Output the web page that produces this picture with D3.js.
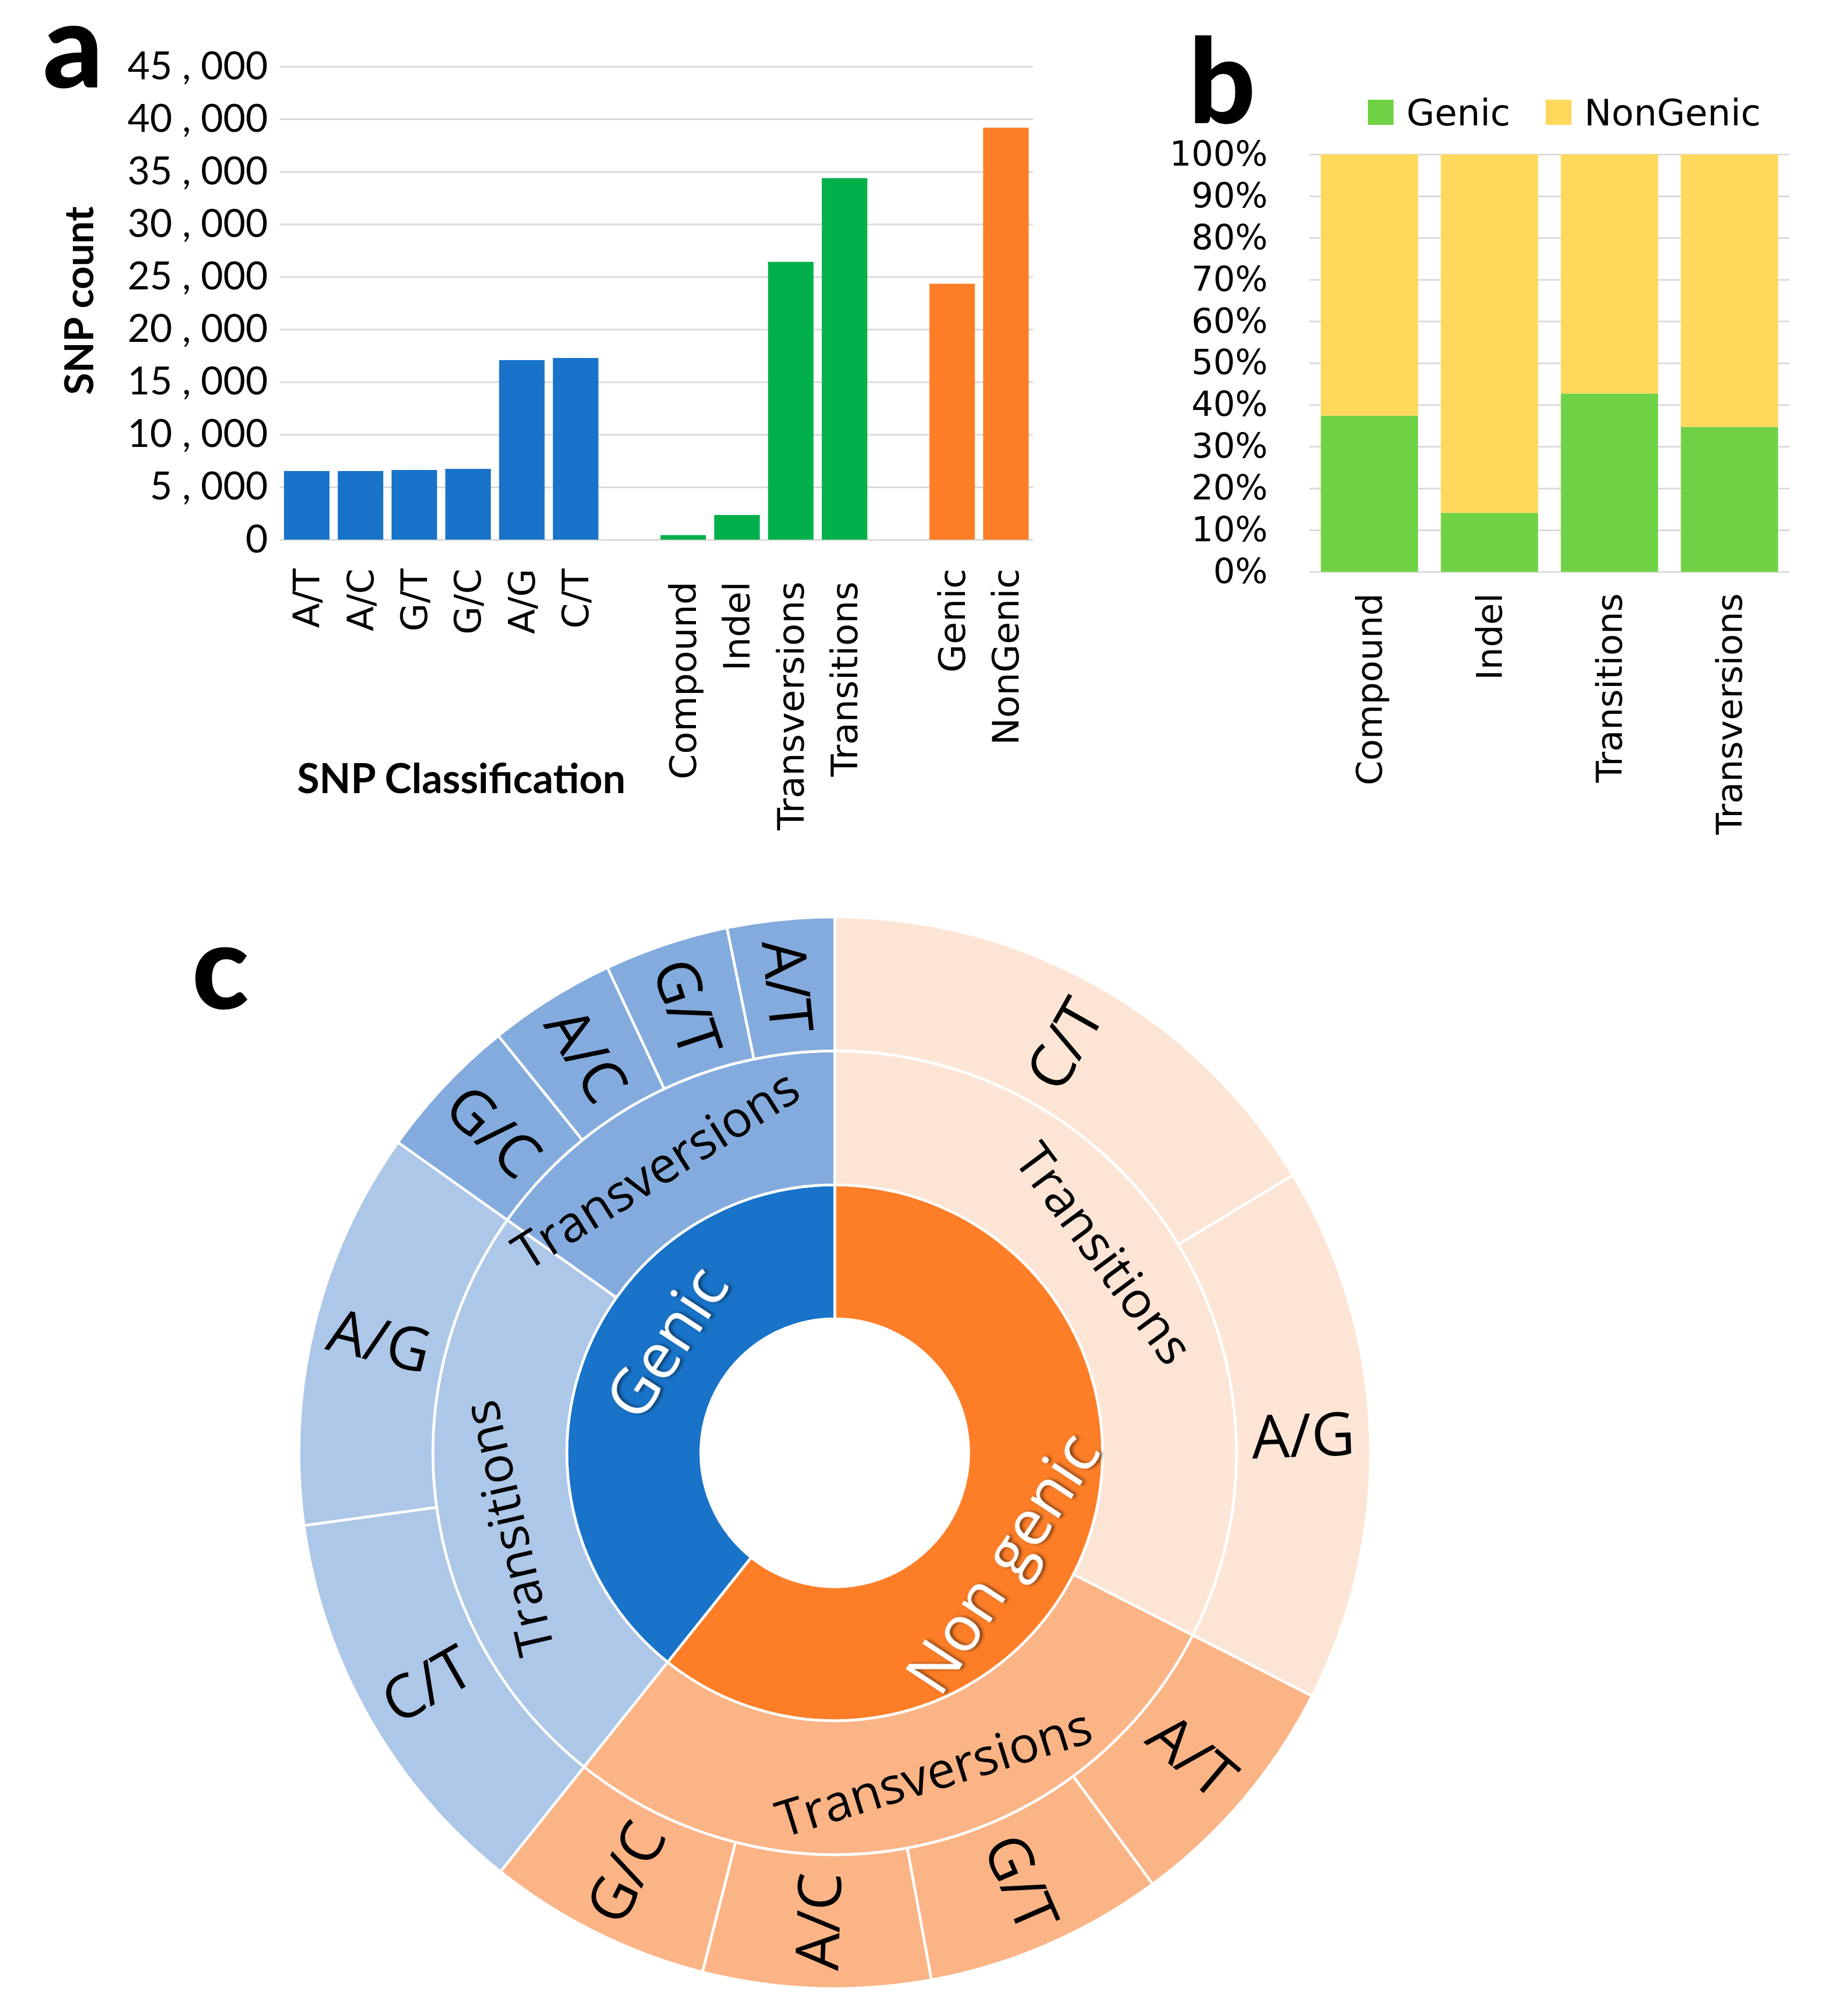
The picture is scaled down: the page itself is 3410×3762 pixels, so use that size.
<!DOCTYPE html>
<html>
<head>
<meta charset="utf-8">
<script src="https://cdn.jsdelivr.net/npm/d3@7"></script>
<style>
  body { margin: 0; background: #fff; }
</style>
</head>
<body>
<script>
// panel a: SNP counts per class
const aCategories = ['A/T', 'A/C', 'G/T', 'G/C', 'A/G', 'C/T', 'Compound', 'Indel', 'Transversions', 'Transitions', 'Genic', 'NonGenic'];
const aValues = [6524, 6524, 6626, 6728, 17074, 17278, 433, 2344, 26417, 34378, 24337, 39174];
const aGroups = ['base', 'base', 'base', 'base', 'base', 'base', 'type', 'type', 'type', 'type', 'region', 'region'];
const aTicks = [0, 5000, 10000, 15000, 20000, 25000, 30000, 35000, 40000, 45000];

// panel b: genic share per SNP type (%)
const bCategories = ['Compound', 'Indel', 'Transitions', 'Transversions'];
const bSeries = ['Genic', 'NonGenic'];
const bGenic = [37.4, 14.1, 42.7, 34.7];
const bNonGenic = [62.6, 85.9, 57.3, 65.3];
const bTicks = [0, 10, 20, 30, 40, 50, 60, 70, 80, 90, 100];

// panel c: sunburst
const cRegions = ['Non genic', 'Genic'];
const cClasses = ['Transitions', 'Transversions'];
const transitionTypes = ['C/T', 'A/G'];
const transversionTypes = ['A/T', 'G/T', 'A/C', 'G/C'];
const nonGenicTransitions = [9925, 9824];
const nonGenicTransversions = [4490, 4389, 4169, 4102];
const genicTransitions = [7360, 7292];
const genicTransversions = [1958, 2279, 2329, 2650];

const W = 3410, H = 3762;
const svg = d3.select('body').append('svg')
  .attr('width', W)
  .attr('height', H);

const panelLetter = (x, y, t) => svg.append('text')
  .attr('x', x)
  .attr('y', y)
  .attr('font-family', 'Lato, sans-serif')
  .attr('font-weight', 900)
  .attr('font-size', 220)
  .text(t);

// ---------- panel a ----------
const aColor = { base: '#1873c9', type: '#00b04a', region: '#fe7e27' };
const aLabelGap = { base: 54, type: 78, region: 54 };
const groupOf = {};
aCategories.forEach((c, i) => { groupOf[c] = aGroups[i]; });

const aSlots = [];
aCategories.forEach((c, i) => {
  if (i > 0 && aGroups[i] !== aGroups[i - 1]) aSlots.push('gap' + i);
  aSlots.push(c);
});

const aLeft = 522, aRight = 1928, aTop = 124, aBottom = 1007;

const xA = d3.scaleBand()
  .domain(aSlots)
  .range([aLeft, aRight])
  .paddingInner(0.154)
  .paddingOuter(0.08);

const yA = d3.scaleLinear()
  .domain([0, 45000])
  .range([aBottom, aTop]);

svg.append('g')
  .attr('transform', `translate(${aLeft}, 0)`)
  .call(d3.axisLeft(yA)
    .tickValues(aTicks)
    .tickSize(-(aRight - aLeft))
    .tickPadding(22)
    .tickFormat((d) => d3.format(',')(d).replace(',', ' , ')))
  .call((g) => g.select('.domain').remove())
  .call((g) => g.selectAll('line').attr('stroke', '#d9d9d9').attr('stroke-width', 3))
  .call((g) => g.selectAll('text')
    .attr('font-family', 'Lato, sans-serif')
    .attr('font-size', 72)
    .attr('fill', '#000'));

svg.append('g')
  .selectAll('rect')
  .data(aCategories)
  .enter()
  .append('rect')
  .attr('x', (c) => xA(c))
  .attr('y', (c, i) => yA(aValues[i]))
  .attr('width', xA.bandwidth())
  .attr('height', (c, i) => aBottom - yA(aValues[i]))
  .attr('fill', (c, i) => aColor[aGroups[i]]);

svg.append('g')
  .attr('transform', `translate(0, ${aBottom})`)
  .call(d3.axisBottom(xA).tickValues(aCategories).tickSize(0))
  .call((g) => g.select('.domain').remove())
  .call((g) => g.selectAll('text')
    .attr('transform', 'rotate(-90)')
    .attr('text-anchor', 'end')
    .attr('x', (c) => -aLabelGap[groupOf[c]])
    .attr('y', 0)
    .attr('dy', '0.35em')
    .attr('font-family', 'DejaVu Sans, sans-serif')
    .attr('font-size', 68)
    .attr('fill', '#000'));

svg.append('text')
  .attr('transform', 'translate(148, 561) rotate(-90)')
  .attr('text-anchor', 'middle')
  .attr('dy', '0.35em')
  .attr('font-family', 'Lato, sans-serif')
  .attr('font-weight', 700)
  .attr('font-size', 75)
  .text('SNP count');

svg.append('text')
  .attr('x', 861)
  .attr('y', 1480)
  .attr('text-anchor', 'middle')
  .attr('font-family', 'Lato, sans-serif')
  .attr('font-weight', 700)
  .attr('font-size', 76)
  .text('SNP Classification');

panelLetter(80, 163, 'a');

// ---------- panel b ----------
const bColor = { Genic: '#6fd244', NonGenic: '#ffd85c' };
const bLeft = 2444, bRight = 3340, bTop = 288, bBottom = 1067;

const xB = d3.scaleBand()
  .domain(bCategories)
  .range([bLeft, bRight])
  .paddingInner(0.19)
  .paddingOuter(0.095);

const yB = d3.scaleLinear()
  .domain([0, 100])
  .range([bBottom, bTop]);

svg.append('g')
  .attr('transform', `translate(${bLeft}, 0)`)
  .call(d3.axisLeft(yB)
    .tickValues(bTicks)
    .tickSize(-(bRight - bLeft))
    .tickPadding(78)
    .tickFormat((d) => d + '%'))
  .call((g) => g.select('.domain').remove())
  .call((g) => g.selectAll('line').attr('stroke', '#d9d9d9').attr('stroke-width', 3))
  .call((g) => g.selectAll('text')
    .attr('font-family', 'DejaVu Sans, sans-serif')
    .attr('font-size', 64)
    .attr('fill', '#000'));

const bRows = bCategories.map((c, i) => ({ cat: c, Genic: bGenic[i], NonGenic: bNonGenic[i] }));
const bStack = d3.stack().keys(bSeries)(bRows);

svg.append('g')
  .selectAll('g')
  .data(bStack)
  .enter()
  .append('g')
  .attr('fill', (s) => bColor[s.key])
  .selectAll('rect')
  .data((s) => s)
  .enter()
  .append('rect')
  .attr('x', (d) => xB(d.data.cat))
  .attr('y', (d) => yB(d[1]))
  .attr('width', xB.bandwidth())
  .attr('height', (d) => yB(d[0]) - yB(d[1]));

svg.append('g')
  .attr('transform', `translate(0, ${bBottom})`)
  .call(d3.axisBottom(xB).tickSize(0))
  .call((g) => g.select('.domain').remove())
  .call((g) => g.selectAll('text')
    .attr('transform', 'rotate(-90)')
    .attr('text-anchor', 'end')
    .attr('x', -40)
    .attr('y', 0)
    .attr('dy', '0.35em')
    .attr('font-family', 'DejaVu Sans, sans-serif')
    .attr('font-size', 66)
    .attr('fill', '#000'));

const legend = svg.append('g')
  .selectAll('g')
  .data(bSeries)
  .enter()
  .append('g')
  .attr('transform', (s, i) => `translate(${2553 + i * 332}, 186)`);

legend.append('rect')
  .attr('width', 48)
  .attr('height', 47)
  .attr('fill', (s) => bColor[s]);

legend.append('text')
  .attr('x', 72)
  .attr('y', 48)
  .attr('font-family', 'DejaVu Sans, sans-serif')
  .attr('font-size', 68)
  .text((s) => s);

panelLetter(2218, 230, 'b');

// ---------- panel c ----------
const cx = 1558, cy = 2711, ringWidth = 250;
const cColor = {
  'Non genic': { base: '#fe7e27', Transitions: '#fde5d6', Transversions: '#fbb485' },
  'Genic': { base: '#1873c9', Transitions: '#adc7e8', Transversions: '#84abdd' }
};
const cValues = {
  'Non genic': [nonGenicTransitions, nonGenicTransversions],
  'Genic': [genicTransitions, genicTransversions]
};
const cTypes = [transitionTypes, transversionTypes];

const tree = {
  name: 'root',
  children: cRegions.map((region) => ({
    name: region,
    children: cClasses.map((cls, k) => ({
      name: cls,
      children: cTypes[k].map((t, j) => ({ name: t, value: cValues[region][k][j] }))
    }))
  }))
};

const root = d3.hierarchy(tree)
  .sum((d) => (d.children ? 0 : d.value))
  .sort((a, b) => b.value - a.value);

d3.partition().size([2 * Math.PI, 4])(root);

const rScale = d3.scaleLinear().domain([0, 4]).range([0, 4 * ringWidth]);

const arc = d3.arc()
  .startAngle((d) => d.x0)
  .endAngle((d) => d.x1)
  .innerRadius((d) => rScale(d.y0))
  .outerRadius((d) => rScale(d.y1));

const nodeColor = (d) => {
  const region = d.ancestors().find((a) => a.depth === 1).data.name;
  if (d.depth === 1) return cColor[region].base;
  const cls = d.ancestors().find((a) => a.depth === 2).data.name;
  return cColor[region][cls];
};

const defs = svg.append('defs');
defs.append('filter')
  .attr('id', 'shadow')
  .attr('x', '-20%').attr('y', '-20%').attr('width', '140%').attr('height', '140%')
  .append('feDropShadow')
  .attr('dx', 3).attr('dy', 4).attr('stdDeviation', 3)
  .attr('flood-color', '#000').attr('flood-opacity', 0.55);

const sun = svg.append('g')
  .attr('transform', `translate(${cx}, ${cy})`);

const nodes = root.descendants().filter((d) => d.depth > 0);

sun.selectAll('path')
  .data(nodes)
  .enter()
  .append('path')
  .attr('d', arc)
  .attr('fill', nodeColor)
  .attr('stroke', '#fff')
  .attr('stroke-width', 5);

const norm = (a) => {
  let r = a % 360;
  if (r > 180) r -= 360;
  if (r <= -180) r += 360;
  return r;
};

// label angle nudges (degrees) per ring, as the labels sit in the original
const angleShift = { 1: 14, 2: -5, 3: 0 };
const labelAngle = (d) => ((d.x0 + d.x1) / 2) + angleShift[d.depth] * Math.PI / 180;

const labelRotation = (d) => {
  const deg = labelAngle(d) * 180 / Math.PI;
  if (d.depth === 3) {
    let r = norm(deg - 90);
    if (Math.abs(r) > 90) r = norm(r + 180);
    return r;
  }
  let r = norm(deg);
  if (Math.abs(r) > 115) r = norm(r + 180);
  return r;
};

const fontSize = { 1: 118, 2: 94, 3: 112 };

sun.selectAll('text')
  .data(nodes)
  .enter()
  .append('text')
  .attr('transform', (d) => {
    const a = labelAngle(d);
    const rad = rScale((d.y0 + d.y1) / 2);
    return `translate(${rad * Math.sin(a)}, ${-rad * Math.cos(a)}) rotate(${labelRotation(d)})`;
  })
  .attr('text-anchor', 'middle')
  .attr('dy', '0.35em')
  .attr('font-family', 'Open Sans, sans-serif')
  .attr('font-size', (d) => fontSize[d.depth])
  .attr('fill', (d) => (d.depth === 1 ? '#fff' : '#000'))
  .attr('filter', (d) => (d.depth === 1 ? 'url(#shadow)' : null))
  .text((d) => d.data.name);

panelLetter(358, 1882, 'c');
</script>
</body>
</html>
